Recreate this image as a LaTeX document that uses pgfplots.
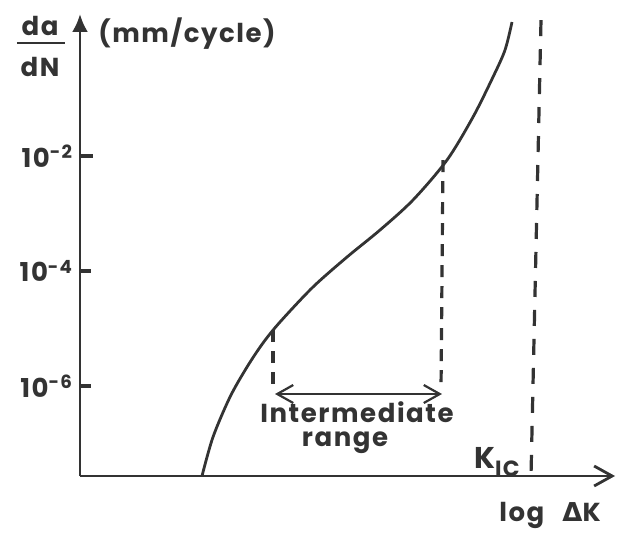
\documentclass[border=0pt]{standalone}
\usepackage{fontspec}
\setmainfont{Poppins}[LetterSpace=6]
\newfontfamily\greekfont{DejaVu Sans}
\usepackage{pgfplots}
\pgfplotsset{compat=1.18}
\usetikzlibrary{arrows.meta}
\definecolor{ink}{HTML}{333333}
\begin{document}
\begin{tikzpicture}
\useasboundingbox (-40pt,-32.5pt) rectangle (270pt,238pt);
\begin{axis}[
  at={(0,0)}, anchor=south west,
  scale only axis, width=267.5pt, height=231pt,
  xmin=80, xmax=615, ymin=-7.565, ymax=0.47,
  axis lines=left, clip=false,
  every axis plot/.append style={ink},
  x axis line style={ink, line width=1.4pt, -{Straight Barb[length=9pt,width=10pt,line width=1.4pt]}},
  y axis line style={ink, line width=1.4pt, -{Latex[length=9pt,width=8pt]}},
  xtick=\empty,
  ytick={-6,-4,-2},
  yticklabels={10\textsuperscript{-6},10\textsuperscript{-4},10\textsuperscript{-2}},
  major tick length=0pt,
  yticklabel style={font=\fontsize{13}{15}\selectfont\bfseries, text=ink},
]
% fatigue crack growth curve
\addplot[smooth, line width=1.4pt] coordinates {
 (202,-7.565) (213,-6.887) (230,-6.191) (247,-5.670) (263,-5.252)
 (280,-4.887) (313,-4.278) (347,-3.757) (380,-3.287) (413,-2.765)
 (447,-2.070) (473,-1.322) (493,-0.626) (505,-0.157) (512,0.330)
};
% short inward ticks on the y axis
\addplot[line width=1.6pt] coordinates {(80,-2) (93,-2)};
\addplot[line width=1.6pt] coordinates {(80,-4) (91,-4)};
\addplot[line width=1.6pt] coordinates {(80,-6) (91,-6)};
% intermediate range limits
\addplot[line width=1.6pt, dash pattern=on 6pt off 4.5pt] coordinates {(273,-5.026) (273,-6.035)};
\addplot[line width=1.6pt, dash pattern=on 6pt off 4.5pt] coordinates {(443,-2.070) (441,-6.070)};
% K_IC
\addplot[line width=1.6pt, dash pattern=on 8pt off 6.5pt] coordinates {(541,0.365) (531,-7.565)};
% double arrow
\draw[ink, line width=1.1pt, {Straight Barb[length=8pt,width=9pt,line width=1.1pt]}-{Straight Barb[length=8pt,width=9pt,line width=1.1pt]}]
  (275,-6.139) -- (442,-6.139);
\node[text=ink, font=\fontsize{13}{15}\selectfont\bfseries] at (357,-6.452) {Intermediate};
\node[text=ink, font=\fontsize{13}{15}\selectfont\bfseries] at (345,-6.991) {range};
\node[text=ink, font=\fontsize{13}{15}\selectfont\bfseries] at (497,-7.322) {\fontsize{15}{17}\selectfont K\raisebox{-0.45ex}{\fontsize{11}{12}\selectfont IC}};
\node[text=ink, font=\fontsize{13}{15}\selectfont\bfseries] at (550,-8.243) {log\hspace{9pt}{\greekfont\bfseries Δ}K};
\node[text=ink, font=\fontsize{13}{15}\selectfont\bfseries] at (40,0.261) {da};
\draw[ink, line width=1pt] (17,-0.035) -- (65,-0.035);
\node[text=ink, font=\fontsize{13}{15}\selectfont\bfseries] at (40,-0.452) {dN};
\node[text=ink, font=\fontsize{13}{15}\selectfont\bfseries] at (187,0.122) {(mm/cycle)};
\end{axis}
\end{tikzpicture}
\end{document}
